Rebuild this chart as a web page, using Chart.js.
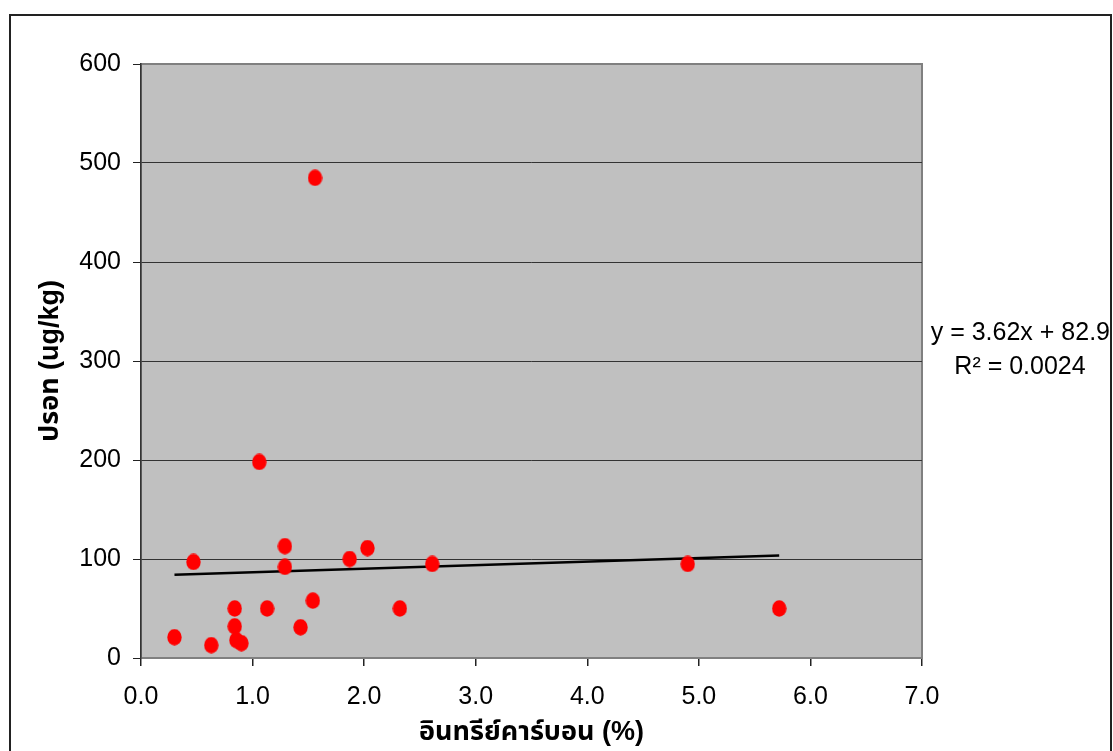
<!DOCTYPE html>
<html>
<head>
<meta charset="utf-8">
<script src="https://cdn.jsdelivr.net/npm/chart.js@4/dist/chart.umd.min.js"></script>
<style>
  body { margin: 0; background: #fff; overflow: hidden; }
  #frame { position: absolute; left: 9px; top: 14px; width: 1103px; height: 800px; border: 2px solid #222; box-sizing: border-box; }
  #c { position: absolute; left: 0; top: 0; }
</style>
</head>
<body>
<div id="frame"></div>
<canvas id="c" width="1113" height="751"></canvas>
<script>
const carbonPct = [0.30, 0.47, 0.63, 0.84, 0.84, 0.855, 0.90, 1.06, 1.13, 1.29, 1.29, 1.43, 1.54, 1.56, 1.87, 2.03, 2.32, 2.61, 4.90, 5.72]
const mercury   = [21, 97, 13, 50, 32, 18, 15, 198, 50, 113, 92, 31, 58, 485, 100, 111, 50, 95, 95, 50]
const xTicks = [0, 1, 2, 3, 4, 5, 6, 7]
const yTicks = [0, 100, 200, 300, 400, 500, 600]

// trendline as printed on the chart
const trendSlope = 3.62
const trendIntercept = 82.9
const trendLabel = ['y = 3.62x + 82.9', 'R\u00B2 = 0.0024']

const fontFamily = "'Liberation Sans', Arial, 'Noto Sans Thai', 'Noto Sans', sans-serif"

// red ellipse marker, slightly taller than wide
const dot = document.createElement('canvas')
dot.width = 15
dot.height = 17
const dctx = dot.getContext('2d')
dctx.fillStyle = '#ff0000'
dctx.beginPath()
dctx.ellipse(7.5, 8.5, 7.2, 8.2, 0, 0, Math.PI * 2)
dctx.fill()

const points = carbonPct.map((x, i) => ({ x: x, y: mercury[i] }))
const xMin = Math.min(...carbonPct)
const xMax = Math.max(...carbonPct)
const trend = [
  { x: xMin, y: trendSlope * xMin + trendIntercept },
  { x: xMax, y: trendSlope * xMax + trendIntercept },
]

const plotBg = {
  id: 'plotBg',
  beforeDraw(chart) {
    const a = chart.chartArea
    const ctx = chart.ctx
    ctx.save()
    ctx.fillStyle = '#c0c0c0'
    ctx.fillRect(a.left, a.top, a.right - a.left, a.bottom - a.top)
    ctx.strokeStyle = '#808080'
    ctx.lineWidth = 2
    ctx.strokeRect(a.left, a.top, a.right - a.left, a.bottom - a.top)
    ctx.restore()
  },
  afterDraw(chart) {
    const ctx = chart.ctx
    ctx.save()
    ctx.fillStyle = '#000'
    ctx.font = '25px ' + fontFamily
    ctx.textAlign = 'right'
    ctx.textBaseline = 'middle'
    ctx.fillText(trendLabel[0], 1110, 333)
    ctx.textAlign = 'center'
    ctx.fillText(trendLabel[1], 1020, 367)
    ctx.restore()
  }
}

new Chart(document.getElementById('c'), {
  type: 'scatter',
  data: {
    datasets: [
      {
        label: 'ปรอท',
        data: points,
        pointStyle: dot,
        pointRadius: 8,
        pointHoverRadius: 8,
      },
      {
        type: 'line',
        label: 'trend',
        data: trend,
        borderColor: '#000',
        borderWidth: 2.5,
        pointRadius: 0,
        fill: false,
      },
    ]
  },
  options: {
    responsive: false,
    animation: false,
    layout: { padding: { left: 0, right: 191, top: 64, bottom: 0 } },
    plugins: {
      legend: { display: false },
      tooltip: { enabled: false },
    },
    scales: {
      x: {
        type: 'linear',
        min: 0,
        max: 7,
        afterFit: scale => { scale.height = 93 },
        afterBuildTicks: scale => { scale.ticks = xTicks.map(v => ({ value: v })) },
        border: { color: '#808080', width: 2 },
        grid: { drawOnChartArea: false, tickLength: 8, tickColor: '#222', lineWidth: 1.5 },
        ticks: {
          color: '#000',
          padding: 16,
          font: { family: fontFamily, size: 25 },
          callback: v => Number(v).toFixed(1),
        },
        title: {
          display: true,
          text: 'อินทรีย์คาร์บอน (%)',
          color: '#000',
          font: { family: fontFamily, size: 27, weight: 'bold' },
          padding: { top: 0, bottom: 2 },
        },
      },
      y: {
        min: 0,
        max: 600,
        afterFit: scale => { scale.width = 141 },
        afterBuildTicks: scale => { scale.ticks = yTicks.map(v => ({ value: v })) },
        border: { color: '#333', width: 1.5 },
        grid: {
          color: ctx => (ctx.tick && ctx.tick.value === 600) ? '#808080' : '#333',
          lineWidth: 1,
          tickLength: 8,
          tickColor: '#222',
        },
        ticks: {
          color: '#000',
          padding: 12,
          font: { family: fontFamily, size: 25 },
        },
        title: {
          display: true,
          text: 'ปรอท (ug/kg)',
          color: '#000',
          font: { family: fontFamily, size: 27, weight: 'bold' },
          padding: { top: 34, bottom: 0 },
        },
      },
    }
  },
  plugins: [plotBg]
})
</script>
</body>
</html>
